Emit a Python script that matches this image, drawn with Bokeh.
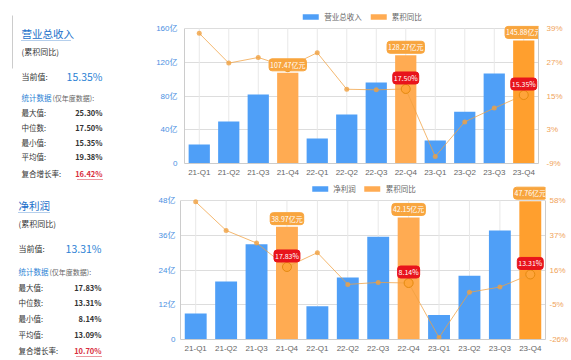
from bokeh.plotting import figure
from bokeh.models import (Range1d, LinearAxis, FixedTicker, Legend, LegendItem,
                          ColumnDataSource, FactorRange)
from bokeh.layouts import row, column
from bokeh.embed import file_html
from bokeh.resources import INLINE
from bokeh.core.properties import value

# ---------------- data ----------------
quarters = ["21-Q1", "21-Q2", "21-Q3", "21-Q4", "22-Q1", "22-Q2",
            "22-Q3", "22-Q4", "23-Q1", "23-Q2", "23-Q3", "23-Q4"]
revenue = [22.5, 49.8, 81.8, 107.47, 29.6, 58.0, 96.0, 128.27, 27.3, 61.2, 106.6, 145.88]
revenue_yoy = [37.3, 26.7, 28.7, 25.30, 30.4, 17.4, 17.2, 17.50, -6.5, 5.8, 10.7, 15.35]
profit = [9.0, 20.0, 32.9, 38.97, 11.5, 21.4, 35.5, 42.15, 8.5, 22.0, 37.6, 47.76]
profit_yoy = [57.2, 39.9, 32.3, 17.83, 26.5, 7.3, 8.5, 8.14, -24.8, 2.5, 5.7, 13.31]

rev_ticks = [0, 40, 80, 120, 160]
rev_pct_ticks = [-9, 3, 15, 27, 39]
profit_ticks = [0, 12, 24, 36, 48]
profit_pct_ticks = [-26, -5, 16, 37, 58]

stat_labels = ["最大值:", "中位数:", "最小值:", "平均值:", "复合增长率:"]
rev_stat_values = ["25.30%", "17.50%", "15.35%", "19.38%", "16.42%"]
profit_stat_values = ["17.83%", "13.31%", "8.14%", "13.09%", "10.70%"]
rev_current = "15.35%"
profit_current = "13.31%"

FONT = "Noto Sans CJK SC"
AXFONT = "Liberation Sans, Noto Sans CJK SC"
BLUE = "#4f9ff7"
ORANGE = "#ffab52"
ORANGE_HI = "#ff9f2e"
LINE_OR = "#f0a040"
RED = "#e8141c"


def style_axis(ax, color, standoff):
    ax.axis_line_color = "#cccccc"
    ax.major_tick_line_color = None
    ax.minor_tick_line_color = None
    ax.major_tick_out = 0
    ax.major_tick_in = 0
    ax.minor_tick_out = 0
    ax.minor_tick_in = 0
    ax.major_label_text_font = AXFONT
    ax.major_label_text_font_size = "8px"
    ax.major_label_text_color = color
    ax.major_label_standoff = standoff


def make_chart(cats, vals, pcts, ticks, pct_ticks, name, pct_label_skip,
               width, height, bl, br, bt, bb, ext_px, std_l, std_r):
    frame_h = height - bt - bb
    tick_px = frame_h - ext_px
    span = ticks[-1] - ticks[0]
    pspan = pct_ticks[-1] - pct_ticks[0]
    p = figure(x_range=FactorRange(*cats),
               y_range=Range1d(ticks[0], ticks[-1] + ext_px * span / tick_px),
               width=width, height=height, output_backend="svg", toolbar_location=None,
               min_border_left=bl, min_border_right=br, min_border_top=bt,
               min_border_bottom=bb)
    p.extra_y_ranges = {"pct": Range1d(pct_ticks[0], pct_ticks[-1] + ext_px * pspan / tick_px)}
    p.outline_line_color = None
    p.background_fill_color = "white"
    p.border_fill_color = "white"

    # axes
    p.yaxis.ticker = FixedTicker(ticks=ticks)
    p.yaxis.bounds = (ticks[0], ticks[-1])
    p.yaxis.major_label_overrides = {t: ("0" if t == 0 else f"{t}亿") for t in ticks}
    style_axis(p.yaxis[0], "#4a90e2", std_l)
    style_axis(p.xaxis[0], "#666666", 4)

    rax = LinearAxis(y_range_name="pct", ticker=FixedTicker(ticks=pct_ticks),
                     bounds=(pct_ticks[0], pct_ticks[-1]))
    rax.major_label_overrides = {t: f"{t}%" for t in pct_ticks}
    style_axis(rax, "#f0a35a", std_r)
    p.add_layout(rax, "right")

    p.ygrid.grid_line_color = "#dddddd"
    p.xgrid.visible = False
    # vertical category grid lines, limited to the tick span
    p.segment(x0=cats, x1=cats, y0=[ticks[0]] * len(cats), y1=[ticks[-1]] * len(cats),
              line_color="#e8e8e8", line_width=1)

    colors = []
    for i, c in enumerate(cats):
        if c.endswith("Q4"):
            colors.append(ORANGE_HI if i == len(cats) - 1 else ORANGE)
        else:
            colors.append(BLUE)
    src = ColumnDataSource(dict(q=cats, v=vals, c=colors))
    bars = p.vbar(x="q", top="v", width=0.72, fill_color="c", line_color=None, source=src)

    p.line(x=cats, y=pcts, y_range_name="pct", line_color=LINE_OR, line_width=1,
           line_alpha=0.75)
    q4 = [i for i, c in enumerate(cats) if c.endswith("Q4")]
    other = [i for i in range(len(cats)) if i not in q4]
    p.scatter(x=[cats[i] for i in other], y=[pcts[i] for i in other], y_range_name="pct",
              size=5, fill_color=LINE_OR, line_color=None, fill_alpha=0.8)
    p.scatter(x=[cats[i] for i in q4], y=[pcts[i] for i in q4], y_range_name="pct",
              size=9, fill_color="#ffa43a", line_color="#e58a10", line_width=1)

    p.text(x=[cats[i] for i in q4], y=[vals[i] for i in q4],
           text=[f"{vals[i]:.2f}亿元" for i in q4],
           text_align="center", text_baseline="bottom", y_offset=-2,
           text_font=value(FONT), text_font_size="7px", text_color="white",
           background_fill_color="#f8a53e", border_line_color="#f8a53e",
           padding=1, border_radius=3)
    lab = [i for i in q4 if cats[i] not in pct_label_skip]
    p.text(x=[cats[i] for i in lab], y=[pcts[i] for i in lab], y_range_name="pct",
           text=[f"{pcts[i]:.2f}%" for i in lab],
           text_align="center", text_baseline="bottom", y_offset=-5,
           text_font=value(FONT), text_font_size="7px", text_color="white",
           background_fill_color=RED, border_line_color=RED,
           padding=1, border_radius=3)

    legend = Legend(items=[LegendItem(label=name, renderers=[bars], index=0),
                           LegendItem(label="累积同比", renderers=[bars], index=3)],
                    orientation="horizontal", location="top_center",
                    glyph_width=20, glyph_height=7, label_height=8,
                    label_text_font=FONT, label_text_font_size="7.5px",
                    label_text_color="#666666", label_standoff=4, spacing=6,
                    padding=0, margin=1, border_line_color=None,
                    background_fill_alpha=0)
    p.add_layout(legend, "center")
    return p


top = make_chart(quarters, revenue, revenue_yoy, rev_ticks, rev_pct_ticks,
                 "营业总收入", ["21-Q4"], 418, 180, 29, 33, 10, 17, 18, 7, 8)
bottom = make_chart(quarters, profit, profit_yoy, profit_ticks, profit_pct_ticks,
                    "净利润", [], 418, 180, 27, 8, 2, 21, 18, 5, 4)

# ---------------- left info panel ----------------
panel = figure(width=153, height=360, x_range=Range1d(0, 153), y_range=Range1d(360, 0),
               output_backend="svg", toolbar_location=None, min_border=0,
               x_axis_type=None, y_axis_type=None)
panel.grid.visible = False
panel.outline_line_color = None
panel.background_fill_color = "white"
panel.border_fill_color = "white"


def panel_block(x0, y0, title, title_w, current, values, rows_y, vdx, stat_dy, line=False):
    if line:
        panel.line(x=[x0 - 9, x0 - 9], y=[y0 - 18, y0 + 35], line_color="#cccccc", line_width=1)
    panel.text(x=[x0], y=[y0], text=[title], text_font=value(FONT), text_font_size="10.5px",
               text_color="#1a6fc9", text_baseline="middle")
    panel.line(x=[x0, x0 + title_w], y=[y0 + 7, y0 + 7], line_color="#6a9fd8",
               line_dash="1 1", line_width=1)
    panel.text(x=[x0], y=[y0 + 18], text=["(累积同比)"], text_font=value(FONT),
               text_font_size="8px", text_color="#333333", text_baseline="middle")
    panel.text(x=[x0], y=[y0 + 43], text=["当前值:"], text_font=value(FONT),
               text_font_size="8px", text_color="#333333", text_baseline="middle")
    panel.text(x=[x0 + vdx], y=[y0 + 43], text=[current], text_font=value(FONT),
               text_font_size="10.5px", text_color="#2a7fd4", text_baseline="middle",
               text_align="right")
    panel.text(x=[x0], y=[y0 + stat_dy], text=["统计数据"], text_font=value(FONT),
               text_font_size="7.5px", text_color="#2a7fd4", text_baseline="middle")
    panel.text(x=[x0 + 31], y=[y0 + stat_dy], text=["(仅年度数据):"], text_font=value(FONT),
               text_font_size="7px", text_color="#666666", text_baseline="middle")
    ys = [y0 + d for d in rows_y]
    panel.text(x=[x0] * len(stat_labels), y=ys, text=stat_labels, text_font=value(FONT),
               text_font_size="7.5px", text_color="#333333", text_baseline="middle")
    panel.text(x=[x0 + vdx] * (len(values) - 1), y=ys[:-1], text=values[:-1],
               text_font=value(FONT), text_font_size="7.5px", text_font_style="bold",
               text_color="#333333", text_baseline="middle", text_align="right")
    panel.text(x=[x0 + vdx], y=[ys[-1]], text=[values[-1]], text_font=value(FONT),
               text_font_size="7.5px", text_font_style="bold", text_color="#d9303e",
               text_baseline="middle", text_align="right")
    panel.line(x=[x0 + vdx - 25, x0 + vdx], y=[ys[-1] + 6, ys[-1] + 6], line_color="#d9303e",
               line_dash="1 1", line_width=1)


panel_block(21, 33, "营业总收入", 50, rev_current, rev_stat_values,
            [79, 94, 109, 123, 140], 81, 64, line=True)
panel_block(18, 205, "净利润", 31, profit_current, profit_stat_values,
            [82, 97, 113, 129, 145], 83, 66)

layout = row(panel, column(row(top, spacing=0), row(bottom, spacing=0), spacing=0),
             spacing=0)
open("out.html", "w").write(file_html(layout, INLINE))
